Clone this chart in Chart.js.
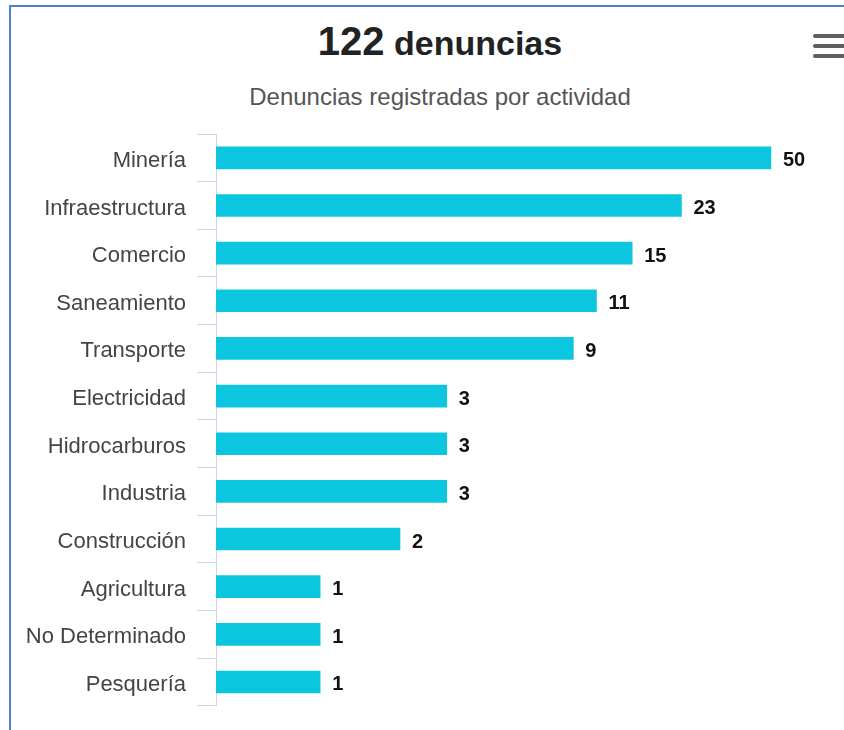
<!DOCTYPE html>
<html lang="es">
<head>
<meta charset="utf-8">
<title>Denuncias registradas por actividad</title>
<script src="https://cdn.jsdelivr.net/npm/chart.js@4.4.1/dist/chart.umd.min.js"></script>
<style>
  html, body { margin: 0; padding: 0; background: #fff; }
  body { width: 844px; height: 730px; position: relative; overflow: hidden; font-family: "Liberation Sans", Arial, sans-serif; }
  .frame { position: absolute; left: 9px; top: 5px; width: 900px; height: 800px; border-left: 2px solid #4f7fd9; border-top: 2px solid #4f7fd9; }
  .title { position: absolute; left: 240px; width: 400px; top: 21px; text-align: center; font-weight: bold; color: #222; font-size: 34px; line-height: 40px; white-space: nowrap; }
  .title .num { font-size: 40px; }
  .subtitle { position: absolute; left: 190px; width: 500px; top: 85px; text-align: center; color: #555; font-size: 24px; line-height: 24px; white-space: nowrap; }
  .menu { position: absolute; left: 813px; width: 34px; height: 4px; background: #5f5f5f; border-radius: 2px; }
  canvas { position: absolute; left: 0; top: 0; }
</style>
</head>
<body>
<div class="frame"></div>
<div class="title"><span class="num">122</span> denuncias</div>
<div class="subtitle">Denuncias registradas por actividad</div>
<div class="menu" style="top:34px"></div>
<div class="menu" style="top:44px"></div>
<div class="menu" style="top:54px"></div>
<canvas id="chart" width="844" height="730"></canvas>
<script>
// actividades y número de denuncias
const categories = ['Minería', 'Infraestructura', 'Comercio', 'Saneamiento', 'Transporte', 'Electricidad',
  'Hidrocarburos', 'Industria', 'Construcción', 'Agricultura', 'No Determinado', 'Pesquería'];
const values = [50, 23, 15, 11, 9, 3, 3, 3, 2, 1, 1, 1];

const FONT = '"Liberation Sans", Arial, sans-serif';

// etiquetas de valor al final de cada barra
const valueLabels = {
  id: 'valueLabels',
  afterDatasetsDraw(chart) {
    const ctx = chart.ctx;
    const meta = chart.getDatasetMeta(0);
    ctx.save();
    ctx.font = 'bold 20px ' + FONT;
    ctx.fillStyle = '#111';
    ctx.textBaseline = 'middle';
    ctx.textAlign = 'left';
    meta.data.forEach((bar, i) => {
      ctx.fillText(String(values[i]), bar.x + 12, bar.y + 3);
    });
    ctx.restore();
  }
};

new Chart(document.getElementById('chart'), {
  type: 'bar',
  data: {
    labels: categories,
    datasets: [{
      label: 'Denuncias',
      data: values,
      backgroundColor: '#0cc6df',
      borderWidth: 0,
      barThickness: 22,
    }],
  },
  options: {
    indexAxis: 'y',
    responsive: false,
    animation: false,
    layout: { padding: { top: 134, bottom: 21, left: 0, right: 14 } },
    plugins: {
      legend: { display: false },
      tooltip: { enabled: false },
    },
    scales: {
      x: {
        type: 'logarithmic',
        display: false,
        bounds: 'data',
        min: 0.405,
        max: 83.5,
      },
      y: {
        grid: { drawOnChartArea: false, tickLength: 19, color: '#ccd6eb', offset: true },
        border: { color: '#ccd6eb', width: 1 },
        ticks: { padding: 11, labelOffset: 3, color: '#444', font: { size: 22, family: FONT } },
        afterFit: s => { s.width = 216; },
      },
    },
  },
  plugins: [valueLabels],
});
</script>
</body>
</html>
